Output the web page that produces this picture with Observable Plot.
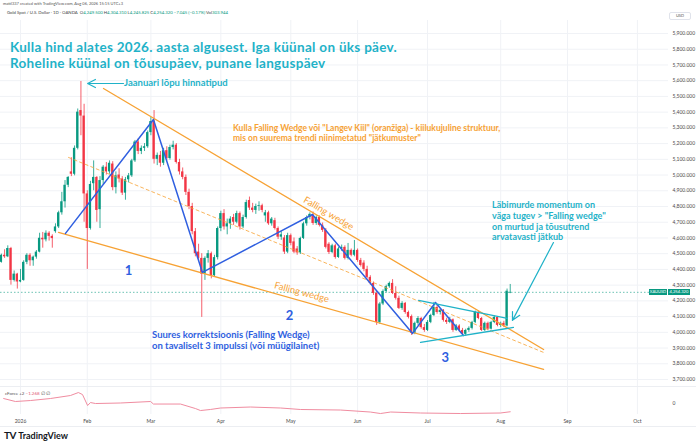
<!DOCTYPE html>
<html><head><meta charset="utf-8">
<script src="https://cdn.jsdelivr.net/npm/d3@7"></script>
<script src="https://cdn.jsdelivr.net/npm/@observablehq/plot@0.6"></script>
<style>
body{margin:0;background:#fff;}
#wrap{position:relative;width:696px;height:444px;overflow:hidden;background:#fff;font-family:Lato,"Noto Sans",sans-serif;}
#wrap svg{position:absolute;left:0;}
.t{position:absolute;white-space:nowrap;}
.hl{position:absolute;height:1px;background:#eceef2;}
</style></head><body><div id="wrap"></div>
<script>
// ---- daily OHLC, bar index -6 (23 Dec 2025) .. 154 (6 Aug 2026) ----
const firstIdx = -6;
const O = [4445,4490,4480,4533,4330,4370,
4320,4330,4445,4490,4455,4478,4510,4598,4588,4630,
4610,4640,4670,4760,4830,4935,5020,5005,5170,5410,
5375,4880,4660,4945,4985,4780,4965,5050,5020,5070,
4920,5000,4975,4885,4970,4995,5090,5210,5150,5170,
5180,5270,5340,5100,5125,5075,5155,5105,5175,5190,
5080,5020,4985,4890,4800,4640,4510,4470,4370,4470,
4500,4360,4475,4660,4755,4670,4690,4730,4700,4755,
4670,4730,4838,4790,4775,4800,4805,4740,4760,4690,
4710,4660,4605,4600,4510,4615,4575,4530,4505,4597,
4690,4730,4745,4692,4730,4680,4648,4560,4508,4550,
4476,4530,4540,4470,4521,4490,4521,4457,4440,4400,
4349,4311,4247,4063,4180,4260,4290,4311,4247,4216,
4152,4184,4126,4100,3993,4057,4088,4030,4012,4063,
4107,4158,4126,4140,4076,4063,4080,4012,4040,4012,
3987,4012,4025,4063,4126,4088,4012,4057,4020,4063,
4095,4044,4057,4040,4249.5];
const H = [4497,4525,4550,4540,4390,4375,
4400,4455,4500,4500,4485,4520,4630,4635,4645,4640,
4620,4690,4770,4890,4965,4990,5110,5185,5420,5595,
5450,4900,4960,5090,4990,4990,5060,5080,5090,5085,
5020,5040,4990,4985,5010,5100,5220,5230,5185,5200,
5280,5365,5410,5140,5150,5170,5180,5190,5215,5200,
5100,5045,5000,4910,4820,4660,4560,4500,4480,4520,
4510,4490,4670,4770,4780,4720,4735,4750,4770,4765,
4745,4840,4860,4820,4815,4830,4815,4775,4770,4730,
4725,4670,4640,4615,4630,4625,4600,4545,4605,4700,
4740,4760,4765,4740,4740,4695,4660,4570,4560,4560,
4540,4555,4550,4565,4530,4584,4530,4470,4455,4420,
4360,4320,4260,4190,4270,4300,4320,4335,4290,4230,
4195,4190,4135,4110,4065,4100,4095,4050,4075,4115,
4190,4170,4150,4145,4090,4095,4085,4050,4048,4025,
4020,4035,4070,4135,4135,4095,4065,4065,4070,4105,
4100,4065,4070,4275,4304.31];
const L = [4440,4470,4475,4300,4320,4275,
4315,4325,4430,4420,4420,4465,4505,4535,4575,4580,
4535,4630,4660,4745,4790,4920,4990,4995,5160,5250,
4700,4400,4650,4900,4700,4660,4940,5000,5005,4900,
4880,4950,4870,4840,4950,4985,5080,5130,5130,5150,
5170,5250,5070,5060,5050,5060,5090,5095,5160,5070,
5000,4970,4870,4780,4620,4480,4450,4095,4330,4440,
4340,4350,4460,4640,4650,4620,4655,4680,4690,4650,
4660,4720,4775,4760,4750,4770,4760,4700,4680,4675,
4650,4590,4585,4495,4500,4550,4500,4490,4495,4590,
4675,4715,4680,4680,4670,4635,4530,4495,4500,4465,
4470,4515,4460,4460,4480,4480,4445,4415,4385,4340,
4300,4235,4044,4050,4170,4250,4280,4240,4205,4145,
4140,4115,4085,3980,3985,4045,4020,4000,4005,4055,
4100,4115,4110,4065,4050,4055,4000,4005,4000,3974,
3974,4000,4015,4055,4080,4005,4005,4010,4015,4055,
4035,4030,4030,4035,4245.825];
const C = [4490,4480,4533,4330,4370,4320,
4330,4445,4490,4455,4478,4510,4598,4588,4630,4610,
4596,4670,4760,4830,4935,4985,5005,5170,5400,5375,
4880,4660,4940,4985,4775,4965,5050,5020,5075,4920,
4995,4975,4885,4970,4995,5090,5210,5150,5170,5180,
5270,5340,5100,5125,5075,5155,5105,5175,5190,5080,
5020,4985,4890,4800,4640,4500,4470,4370,4470,4500,
4360,4475,4660,4755,4670,4690,4720,4700,4755,4670,
4730,4825,4790,4775,4800,4805,4775,4760,4690,4720,
4660,4605,4620,4510,4615,4565,4510,4505,4597,4690,
4730,4750,4692,4730,4680,4648,4540,4508,4550,4476,
4530,4540,4470,4521,4490,4521,4457,4425,4400,4349,
4311,4247,4063,4180,4260,4290,4311,4247,4216,4152,
4184,4126,4095,3993,4057,4088,4030,4012,4063,4107,
4158,4126,4140,4076,4063,4080,4012,4040,4012,3987,
4012,4025,4063,4126,4088,4012,4057,4020,4063,4095,
4044,4057,4040,4261.365,4254.32];

// ---- axes ----
const monthTicks = [0,21,41,63,85,106,128,151,172,194];
const monthLabels = ["2026","Feb","Mar","Apr","May","Jun","Jul","Aug","Sep","Oct"];
const priceTicks = [3700,3800,3900,4000,4100,4200,4300,4400,4500,4600,4700,4800,4900,5000,5100,5200,5300,5400,5500,5600,5700,5800,5900];

// ---- cForce indicator (read at selected bars) ----
const cfIdx = [-5.3,-1.6,3.1,9.4,15.7,18.2,19.5,21.1,22,23.6,31.4,40.9,41.8,50.3,55,56.6,59.7,62.9,72.3,81.8,88,100.6,110,113.2,116.4,125.8,138.4,150.9,154];
const cfVal = [0.77,0.31,0.46,0.77,1.23,1.69,1.38,-0.31,0.15,0,0.08,0.31,-0.08,-0.08,-0.77,-1.08,-0.92,-0.69,-0.54,-0.69,-0.92,-1.0,-1.31,-1.54,-1.31,-1.46,-1.54,-1.46,-1.268];

// ---- drawings (bar index, price) ----
const wedgeUpperI = [26.1,164.5], wedgeUpperP = [5550,3891];
const wedgeLowerI = [11.95,164.5], wedgeLowerP = [4635,3764];
const wedgeMidI = [15.1,164.5], wedgeMidP = [5112,3872];
const waveI = [14.15,41.8,57.2,91.8,123.3,130.5,139.3];
const waveP = [4629,5353,4381,4749,3993,4190,3980];
const triUpperI = [125.2,153.1], triUpperP = [4203,4088];
const triLowerI = [125.8,155], triLowerP = [3936,4031];
const waveLabelI = [34,84.6,133.6], waveLabelP = [4393,4107,3840], waveLabelT = ["1","2","3"];
const wedgeLabelI = [96.9,88.4], wedgeLabelP = [4756,4254], wedgeLabelR = [30.5,15];
const arrowX1 = [32.4,167.6], arrowY1 = [5582,4571], arrowX2 = [21.1,154.7], arrowY2 = [5582,4076];

const green="#089981", red="#f23645", orange="#f7a234", blue="#2f5fe0", cyan="#1fb2c8";

const bars = O.map((o,k)=>({i:firstIdx+k,o,h:H[k],l:L[k],c:C[k]}));
const pts = (I,P)=>I.map((i,k)=>({i,p:P[k]}));
const cf = cfIdx.map((i,k)=>({i,v:cfVal[k]}));
const col = d => d.c>=d.o?green:red;

const xS = {domain:[-6.29,203.77], range:[0,668], axis:null};
const main = Plot.plot({
  width:696, height:444, marginLeft:0, marginRight:28, marginTop:20, marginBottom:30,
  x:xS,
  y:{domain:[3700,5900], range:[379,33], axis:null},
  style:{background:"transparent", fontFamily:"Lato, 'Noto Sans', sans-serif", overflow:"visible"},
  marks:[
    Plot.ruleY(priceTicks,{stroke:"#f0f2f6"}),
    Plot.ruleX(monthTicks,{stroke:"#f0f2f6"}),
    Plot.ruleY([C[C.length-1]],{stroke:green, strokeDasharray:"1.5,2", strokeOpacity:0.6}),
    Plot.ruleX(bars,{x:"i", y1:"l", y2:"h", stroke:col, strokeWidth:0.8}),
    Plot.rect(bars,{x1:d=>d.i-0.36, x2:d=>d.i+0.36, y1:"o", y2:"c", fill:col}),
    Plot.line(pts(wedgeUpperI,wedgeUpperP),{x:"i",y:"p",stroke:orange,strokeWidth:1.3}),
    Plot.line(pts(wedgeLowerI,wedgeLowerP),{x:"i",y:"p",stroke:orange,strokeWidth:1.3}),
    Plot.line(pts(wedgeMidI,wedgeMidP),{x:"i",y:"p",stroke:orange,strokeWidth:1,strokeDasharray:"3,3",strokeOpacity:0.8}),
    Plot.line(pts(waveI,waveP),{x:"i",y:"p",stroke:blue,strokeWidth:1.5}),
    Plot.line(pts(triUpperI,triUpperP),{x:"i",y:"p",stroke:cyan,strokeWidth:1.3}),
    Plot.line(pts(triLowerI,triLowerP),{x:"i",y:"p",stroke:cyan,strokeWidth:1.3}),
    Plot.arrow(arrowX1.map((x1,k)=>({x1,y1:arrowY1[k],x2:arrowX2[k],y2:arrowY2[k]})),
      {x1:"x1",y1:"y1",x2:"x2",y2:"y2",stroke:cyan,strokeWidth:1.2,headLength:11,headAngle:55}),
    Plot.text(waveLabelT.map((t,k)=>({t,i:waveLabelI[k],p:waveLabelP[k]})),
      {x:"i",y:"p",text:"t",fill:blue,fontSize:13,fontWeight:"bold"}),
    Plot.text(wedgeLabelI.map((i,k)=>({i,p:wedgeLabelP[k],r:wedgeLabelR[k]})),
      {x:"i",y:"p",text:()=>"Falling wedge",rotate:"r",fill:orange,fontSize:9.5}),
    Plot.axisY(priceTicks,{anchor:"right",tickSize:0,tickPadding:4,tickFormat:d3.format(",.3f"),fontSize:5,fill:"#4a4a4a",label:null}),
    Plot.axisX(monthTicks,{anchor:"bottom",tickSize:0,tickPadding:5,tickFormat:i=>monthLabels[monthTicks.indexOf(i)],fontSize:5,fill:"#4a4a4a",label:null})
  ]
});
main.style.top="0px";
const wrap = document.getElementById("wrap");
wrap.appendChild(main);

const ind = Plot.plot({
  width:696, height:28, marginLeft:0, marginRight:28, marginTop:0, marginBottom:0,
  x:xS,
  y:{domain:[-1.69,2.62], range:[28,0], axis:null},
  style:{background:"transparent", fontFamily:"Lato, 'Noto Sans', sans-serif", overflow:"visible"},
  marks:[
    Plot.line(cf,{x:"i",y:"v",stroke:"#f08ca0",strokeWidth:1}),
    Plot.axisY([0],{anchor:"right",tickSize:0,tickPadding:4,tickFormat:d=>"0",fontSize:5,fill:"#4a4a4a",label:null})
  ]
});
ind.style.top="386px";
wrap.appendChild(ind);

function add(html, css){const d=document.createElement("div");d.className="t";d.innerHTML=html;Object.assign(d.style,css);wrap.appendChild(d);return d;}
function hline(top){const d=document.createElement("div");d.className="hl";d.style.top=top+"px";d.style.left="0px";d.style.width="696px";wrap.appendChild(d);}
hline(386); hline(426);

const g = s=>`<span style="color:${green}">${s}</span>`;
add("mattl337 created with TradingView.com, Aug 06, 2026 15:15 UTC+3",{left:"3px",top:"1px",fontSize:"4px",color:"#555"});
add(`Gold Spot / U.S. Dollar · 1D · OANDA&nbsp; O${g("4,249.500")} H${g("4,304.310")} L${g("4,245.825")} C${g("4,254.320")} ${g("−7.045 (−0.17%)")} Vol${g("303.944")}`,{left:"7px",top:"10px",fontSize:"4.3px",color:"#444"});
const titleCss = {left:"10px",fontSize:"13.5px",lineHeight:"16.2px",fontWeight:"700",letterSpacing:"0.3px",color:cyan};
add("Kulla hind alates 2026. aasta algusest. Iga küünal on üks päev.",{...titleCss,top:"39px"});
add("Roheline küünal on tõusupäev, punane languspäev",{...titleCss,top:"55.2px"});
add("Jaanuari lõpu hinnatipud",{left:"124px",top:"77px",fontSize:"9.5px",fontWeight:"700",color:cyan});
add('Kulla Falling Wedge või "Langev Kiil" (oranžiga) - kiilukujuline struktuur,<br>mis on suurema trendi niinimetatud "jätkumuster"',
  {left:"233px",top:"123px",fontSize:"8.5px",lineHeight:"10.2px",fontWeight:"700",color:orange});
add('Läbimurde momentum on<br>väga tugev &gt; "Falling wedge"<br>on murtud ja tõusutrend<br>arvatavasti jätkub',
  {left:"492px",top:"200px",fontSize:"9px",lineHeight:"10.8px",fontWeight:"700",color:cyan});
add("Suures korrektsioonis (Falling Wedge)<br>on tavaliselt 3 impulssi (või müügilainet)",
  {left:"152px",top:"329px",fontSize:"9.5px",lineHeight:"11.4px",fontWeight:"700",color:blue});
add('cForce +2 <span style="color:#e05a78">−1.268</span> ∅ ∅',{left:"5px",top:"391px",fontSize:"4.5px",color:"#555"});
add('<b style="font-size:10px;letter-spacing:-0.5px">TV</b> <b>TradingView</b>',{left:"4px",top:"429px",fontSize:"9px",color:"#131722"});
add("USD",{left:"669px",top:"12px",width:"20px",height:"6px",lineHeight:"6px",textAlign:"center",fontSize:"4px",color:"#555",border:"1px solid #e0e3eb",borderRadius:"2px"});
const py = main.scale("y").apply(C[C.length-1]);
add("XAUUSD",{left:"649px",top:(py-3)+"px",width:"18px",height:"6px",lineHeight:"6px",textAlign:"center",fontSize:"4px",color:"#fff",background:green});
add("4,254.320",{left:"668px",top:(py-3)+"px",width:"22px",height:"6px",lineHeight:"6px",textAlign:"center",fontSize:"4.2px",color:"#fff",background:green});
</script></body></html>
